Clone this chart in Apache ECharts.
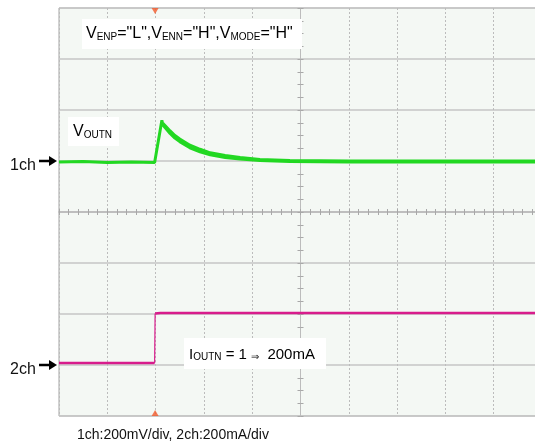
<!DOCTYPE html>
<html>
<head>
<meta charset="utf-8">
<script src="https://cdn.jsdelivr.net/npm/echarts@6/dist/echarts.min.js"></script>
<style>html,body{margin:0;padding:0;background:#fff}#c{width:535px;height:444px}</style>
</head>
<body>
<div id="c"></div>
<script>
// Time axis in divisions (-5..5), vertical in divisions (-4..4)
const voutnTime   = [-5, -4.5, -4, -3.5, -3.02, -2.87, -2.85, -2.80, -2.70, -2.60, -2.50, -2.29, -2.08, -1.87, -1.56, -1.25, -0.84, -0.22, 1, 3, 5];
const voutnValues = [0.98, 0.99, 0.97, 0.98, 0.97, 1.80, 1.71, 1.65, 1.54, 1.45, 1.38, 1.26, 1.18, 1.12, 1.07, 1.04, 1.01, 0.99, 0.98, 0.98, 0.98];
const voutnBandTime   = [-2.85, -2.80, -2.70, -2.60, -2.50, -2.29, -2.08, -1.87, -1.56, -1.25, -0.84, -0.22, 1, 3, 5];
const voutnBandValues = [1.74, 1.69, 1.59, 1.50, 1.43, 1.31, 1.23, 1.16, 1.11, 1.07, 1.03, 1.01, 1.0, 1.0, 1.0];
const ioutnLowTime   = [-5, -4, -3.02];
const ioutnLowValues = [-2.96, -2.96, -2.96];
const ioutnStepTime   = [-3.02, -3.01];
const ioutnStepValues = [-2.96, -1.99];
const ioutnHighTime   = [-3.01, -2.9, 0, 5];
const ioutnHighValues = [-1.99, -1.98, -1.98, -1.98];
const triggerTime = -3.01;
const channelLevels = [1, -3];
const channelNames = ['1ch', '2ch'];

const zip = (a, b) => a.map((v, i) => [v, b[i]]);
const FONT = '"Liberation Sans", Arial, sans-serif';
const tickStyle = {color: '#a8a8a8', width: 1};

const chart = echarts.init(document.getElementById('c'), null, {renderer: 'canvas'});
const option = {
  animation: false,
  backgroundColor: '#ffffff',
  grid: {left: 59, top: 8, width: 483, height: 408, show: true, backgroundColor: '#f4f8f4',
         borderColor: '#a5a5a5', borderWidth: 1, outerBoundsMode: 'none', containLabel: false},
  xAxis: [
    {type: 'value', min: -5, max: 5, interval: 1, position: 'bottom',
     axisLine: {show: true, onZero: true, onZeroAxisIndex: 0, lineStyle: {color: '#bdbdbd', width: 1.5}},
     axisTick: {show: true, length: 3, lineStyle: tickStyle},
     minorTick: {show: true, splitNumber: 5, length: 3, lineStyle: tickStyle},
     axisLabel: {show: false},
     splitLine: {show: true, lineStyle: {color: '#bcbcbc', width: 1, type: [2, 2]}}},
    {type: 'value', min: -5, max: 5, interval: 1, position: 'top',
     axisLine: {show: true, onZero: true, onZeroAxisIndex: 0, lineStyle: {color: '#bdbdbd', width: 1.5}},
     axisTick: {show: true, length: 3, lineStyle: tickStyle},
     minorTick: {show: true, splitNumber: 5, length: 3, lineStyle: tickStyle},
     axisLabel: {show: false}, splitLine: {show: false}}
  ],
  yAxis: [
    {type: 'value', min: -4, max: 4, interval: 1, position: 'left',
     axisLine: {show: true, onZero: true, onZeroAxisIndex: 0, lineStyle: {color: '#bcbcbc', width: 1, type: [2, 2]}},
     axisTick: {show: true, length: 3, lineStyle: tickStyle},
     minorTick: {show: true, splitNumber: 4, length: 3, lineStyle: tickStyle},
     axisLabel: {show: false},
     splitLine: {show: true, lineStyle: {color: '#c6c6c6', width: 1.5}}},
    {type: 'value', min: -4, max: 4, interval: 1, position: 'right',
     axisLine: {show: true, onZero: true, onZeroAxisIndex: 0, lineStyle: {color: '#bcbcbc', width: 1, type: [2, 2]}},
     axisTick: {show: true, length: 3, lineStyle: tickStyle},
     minorTick: {show: true, splitNumber: 4, length: 3, lineStyle: tickStyle},
     axisLabel: {show: false}, splitLine: {show: false}}
  ],
  series: [
    {type: 'line', name: 'VOUTN', data: zip(voutnTime, voutnValues), showSymbol: false, symbol: 'none',
     lineStyle: {color: '#22d822', width: 3}, z: 5},
    {type: 'line', name: 'VOUTN band', data: zip(voutnBandTime, voutnBandValues), showSymbol: false, symbol: 'none',
     lineStyle: {color: '#22d822', width: 3}, z: 5},
    {type: 'line', name: 'IOUTN low', data: zip(ioutnLowTime, ioutnLowValues), showSymbol: false, symbol: 'none',
     lineStyle: {color: '#d81c8c', width: 2.5}, z: 5},
    {type: 'line', name: 'IOUTN step', data: zip(ioutnStepTime, ioutnStepValues), showSymbol: false, symbol: 'none',
     lineStyle: {color: '#d81c8c', width: 1.2}, z: 5},
    {type: 'line', name: 'IOUTN high', data: zip(ioutnHighTime, ioutnHighValues), showSymbol: false, symbol: 'none',
     lineStyle: {color: '#d81c8c', width: 2.5}, z: 5},
    {type: 'scatter', data: [[triggerTime, 4]], symbol: 'triangle', symbolRotate: 180, symbolSize: [7, 6],
     symbolOffset: [0, 3], itemStyle: {color: '#f2592a'}, clip: false, z: 6},
    {type: 'scatter', data: [[triggerTime, -4]], symbol: 'triangle', symbolSize: [7, 6],
     symbolOffset: [0, -3], itemStyle: {color: '#f2592a'}, clip: false, z: 6}
  ]
};
chart.setOption(option);

const rich = {
  m: {fontSize: 16, fontFamily: FONT, color: '#111', lineHeight: 18, verticalAlign: 'bottom'},
  s: {fontSize: 10, fontFamily: FONT, color: '#111', lineHeight: 12, verticalAlign: 'bottom'}
};
const rich15 = {
  m: {fontSize: 15, fontFamily: FONT, color: '#111', lineHeight: 18, verticalAlign: 'bottom'},
  s: {fontSize: 10, fontFamily: FONT, color: '#111', lineHeight: 12, verticalAlign: 'bottom'}
};

const elements = [
  {type: 'rect', shape: {x: 82, y: 19, width: 220, height: 30}, style: {fill: '#ffffff'}, z: 100},
  {type: 'text', x: 86, y: 33, z: 101, style: {text: '{m|V}{s|ENP}{m|="L",V}{s|ENN}{m|="H",V}{s|MODE}{m|="H"}', rich: rich, verticalAlign: 'middle'}},
  {type: 'rect', shape: {x: 68, y: 117, width: 51, height: 29}, style: {fill: '#ffffff'}, z: 100},
  {type: 'text', x: 73, y: 131, z: 101, style: {text: '{m|V}{s|OUTN}', rich: rich, verticalAlign: 'middle'}},
  {type: 'rect', shape: {x: 184, y: 338, width: 142, height: 31}, style: {fill: '#ffffff'}, z: 100},
  {type: 'text', x: 189, y: 353, z: 101, style: {text: '{m|I}{s|OUTN}{m| = 1 }{s|⇒}{m|  200mA}', rich: rich15, verticalAlign: 'middle'}},
  {type: 'text', x: 77, y: 435, z: 101, style: {text: '1ch:200mV/div, 2ch:200mA/div', font: '14px ' + FONT, fill: '#111', verticalAlign: 'middle'}}
];
channelLevels.forEach((lvl, i) => {
  const p = chart.convertToPixel({xAxisIndex: 0, yAxisIndex: 0}, [-5, lvl]);
  const tx = p[0] - 2, ty = Math.round(p[1]);
  elements.push({type: 'text', x: 10, y: ty + 5, z: 101, style: {text: channelNames[i], font: '16px ' + FONT, fill: '#111', verticalAlign: 'middle'}});
  elements.push({type: 'line', z: 101, shape: {x1: tx - 18, y1: ty, x2: tx - 6, y2: ty}, style: {stroke: '#000', lineWidth: 2.5}});
  elements.push({type: 'polygon', z: 101, shape: {points: [[tx - 8, ty - 5], [tx, ty], [tx - 8, ty + 5]]}, style: {fill: '#000'}});
});
chart.setOption({graphic: {elements: elements}});
</script>
</body>
</html>
